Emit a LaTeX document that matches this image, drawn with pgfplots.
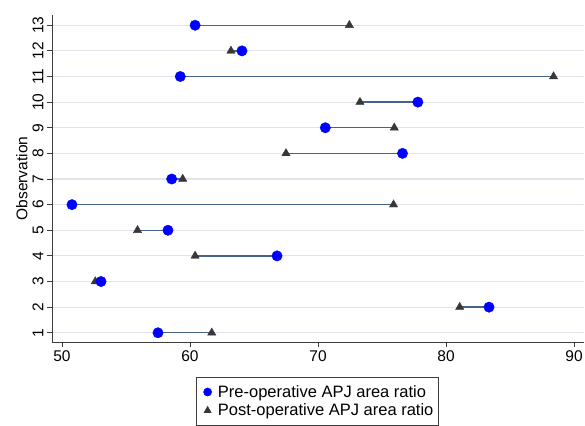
\documentclass[border=0pt]{standalone}
\usepackage{fontspec}
\setmainfont{Liberation Sans}
\usepackage{pgfplots}
\pgfplotsset{compat=1.18}
\definecolor{conn}{RGB}{70,100,135}
\definecolor{gridc}{RGB}{222,228,233}
\definecolor{tri}{RGB}{55,55,55}
\definecolor{axc}{RGB}{60,60,60}
\begin{document}
\begin{tikzpicture}
\begin{axis}[
  scale only axis,
  width=532pt, height=327pt,
  at={(0pt,0pt)}, anchor=south west,
  xmin=49.22, xmax=90.78,
  ymin=0.64, ymax=13.4,
  axis x line*=bottom, axis y line*=left,
  axis line style={axc, line width=0.8pt},
  xtick={50,60,70,80,90},
  ytick={1,...,13},
  tick align=outside,
  major tick length=5pt,
  xtick style={axc, line width=0.8pt},
  ytick style={axc, line width=0.8pt},
  xticklabel style={font=\fontsize{15.5}{17}\selectfont},
  yticklabel style={font=\fontsize{15.5}{17}\selectfont, rotate=90, anchor=south},
  /pgf/number format/assume math mode=true,
  ylabel={Observation},
  ylabel style={font=\fontsize{15.5}{17}\selectfont, yshift=-2pt},
  unbounded coords=jump,
  clip=false,
  legend style={at={(0.2707,-0.107)}, anchor=north west, draw=axc, line width=0.6pt,
    font=\fontsize{16.5}{18}\selectfont, row sep=1pt, inner xsep=3pt, inner ysep=6pt},
  legend cell align=left,
  legend image code/.code={\path (0pt,0pt) (16pt,0pt); \draw[#1] plot coordinates {(8pt,0pt)};},
]
% horizontal grid lines at each observation
\addplot[gridc, line width=1.2pt, forget plot] coordinates {
(49.3,1) (90.78,1) (nan,nan) (49.3,2) (90.78,2) (nan,nan)
(49.3,3) (90.78,3) (nan,nan) (49.3,4) (90.78,4) (nan,nan)
(49.3,5) (90.78,5) (nan,nan) (49.3,6) (90.78,6) (nan,nan)
(49.3,7) (90.78,7) (nan,nan) (49.3,8) (90.78,8) (nan,nan)
(49.3,9) (90.78,9) (nan,nan) (49.3,10) (90.78,10) (nan,nan)
(49.3,11) (90.78,11) (nan,nan) (49.3,12) (90.78,12) (nan,nan)
(49.3,13) (90.78,13)
};
\addplot[conn, line width=1.4pt, forget plot] coordinates {
(60.4,13) (72.45,13) (nan,nan)
(63.2,12) (64.06,12) (nan,nan)
(59.24,11) (88.4,11) (nan,nan)
(73.28,10) (77.8,10) (nan,nan)
(70.57,9) (75.96,9) (nan,nan)
(67.5,8) (76.6,8) (nan,nan)
(58.57,7) (59.43,7) (nan,nan)
(50.78,6) (75.9,6) (nan,nan)
(55.9,5) (58.28,5) (nan,nan)
(60.4,4) (66.8,4) (nan,nan)
(52.6,3) (53.05,3) (nan,nan)
(81.07,2) (83.36,2) (nan,nan)
(57.5,1) (61.7,1)
};
\addplot[only marks, mark=triangle*, mark size=4.8pt, color=tri, forget plot] coordinates {
(72.45,13) (63.2,12) (88.4,11) (73.28,10) (75.96,9) (67.5,8) (59.43,7)
(75.9,6) (55.9,5) (60.4,4) (52.6,3) (81.07,2) (61.7,1)
};
\addplot[only marks, mark=*, mark size=5.2pt, color=blue, forget plot] coordinates {
(60.4,13) (64.06,12) (59.24,11) (77.8,10) (70.57,9) (76.6,8) (58.57,7)
(50.78,6) (58.28,5) (66.8,4) (53.05,3) (83.36,2) (57.5,1)
};
\addlegendimage{only marks, mark=*, mark size=4pt, color=blue}
\addlegendentry{Pre-operative APJ area ratio}
\addlegendimage{only marks, mark=triangle*, mark size=4pt, color=tri}
\addlegendentry{Post-operative APJ area ratio}
\end{axis}
\pgfresetboundingbox
\path[use as bounding box] (-52pt,-83pt) rectangle (533pt,342pt);
\end{tikzpicture}
\end{document}
